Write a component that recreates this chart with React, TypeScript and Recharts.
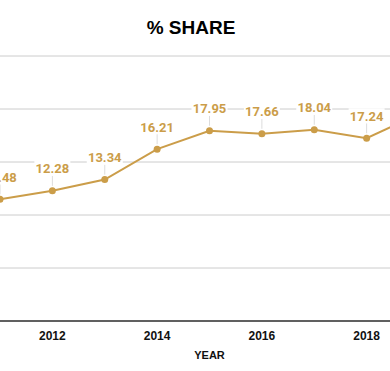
import { CartesianGrid, LabelList, Line, LineChart, XAxis, YAxis } from "recharts";

const years = ["2011", "2012", "2013", "2014", "2015", "2016", "2017", "2018", "2019"];
const share = [11.48, 12.28, 13.34, 16.21, 17.95, 17.66, 18.04, 17.24, 19.56];
const yTicks = [0, 5, 10, 15, 20, 25];
const xTicks = ["2012", "2014", "2016", "2018"];

const GOLD = "#cb9d49";

const data = years.map((year, i) => ({ year, share: share[i] }));

// value label with a thin leader line down to the point
function ShareLabel(props: any) {
  const { x, y, value } = props;
  if (x == null || y == null) return null;
  const text = Number(value).toFixed(2);
  return (
    <g>
      <line x1={x} y1={y - 5} x2={x} y2={y - 15} stroke="#dcdcdc" strokeWidth={1} />
      <rect x={x - 18} y={y - 30} width={36} height={15} fill="#fff" />
      <text
        x={x}
        y={y - 22}
        dy="0.35em"
        textAnchor="middle"
        fill={GOLD}
        fontFamily="Roboto, sans-serif"
        fontWeight={700}
        fontSize={13}
      >
        {text}
      </text>
    </g>
  );
}

export default function App() {
  return (
    <div
      style={{
        position: "fixed",
        left: 0,
        top: 0,
        width: 390,
        height: 371,
        overflow: "hidden",
        background: "#fff",
      }}
    >
      <div
        style={{
          position: "absolute",
          top: 17,
          left: 0,
          width: 382,
          textAlign: "center",
          fontFamily: "'Liberation Sans', Arial, sans-serif",
          fontWeight: 700,
          fontSize: 19,
          color: "#000",
        }}
      >
        % SHARE
      </div>
      <div style={{ position: "absolute", left: -26, top: 0 }}>
        <LineChart
          width={471}
          height={371}
          data={data}
          margin={{ top: 56, right: 0, left: 0, bottom: 0 }}
        >
          <CartesianGrid horizontal vertical={false} stroke="#cccccc" />
          <XAxis
            dataKey="year"
            ticks={xTicks}
            interval={0}
            padding={{ left: 26, right: 26 }}
            height={50}
            tickLine={false}
            tickMargin={4}
            axisLine={{ stroke: "#333", strokeWidth: 1.5 }}
            tick={{
              fill: "#111",
              fontSize: 12,
              fontWeight: 700,
              fontFamily: "'Liberation Sans', Arial, sans-serif",
            }}
            label={{
              value: "YEAR",
              position: "insideBottom",
              offset: 12,
              fill: "#111",
              fontSize: 11,
              fontWeight: 700,
              fontFamily: "'Liberation Sans', Arial, sans-serif",
            }}
          />
          <YAxis hide domain={[0, 25]} ticks={yTicks} />
          <Line
            type="linear"
            dataKey="share"
            stroke={GOLD}
            strokeWidth={2}
            dot={{ r: 3.5, fill: GOLD, stroke: GOLD, strokeWidth: 0 }}
            isAnimationActive={false}
          >
            <LabelList dataKey="share" content={<ShareLabel />} />
          </Line>
        </LineChart>
      </div>
    </div>
  );
}
